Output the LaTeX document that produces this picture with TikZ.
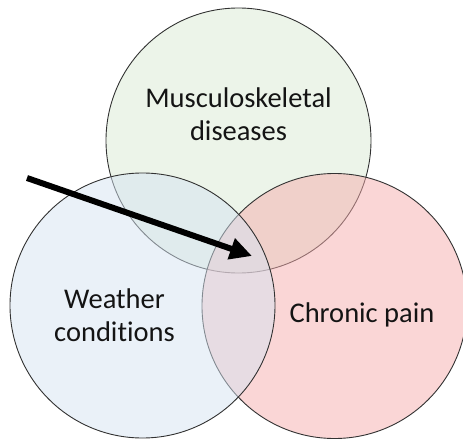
\documentclass[tikz,border=0pt]{standalone}
\usepackage{fontspec}
\setmainfont[RawFeature=-liga]{Carlito}
\usetikzlibrary{arrows.meta}
\definecolor{topfill}{RGB}{217,233,211}
\definecolor{leftfill}{RGB}{213,227,241}
\definecolor{rightfill}{RGB}{245,173,173}
\definecolor{edge}{RGB}{50,50,50}
\definecolor{txt}{RGB}{20,20,20}
\tikzset{
  venn/.style={circle, draw=edge, line width=0.9pt, fill opacity=0.5, minimum size=265pt, inner sep=0pt},
  lbl/.style={text=txt, font=\fontsize{28.5}{33}\selectfont, align=center},
  bigarrow/.style={line width=6pt, -{Triangle[length=22pt,width=21pt]}}
}
\begin{document}
\begin{tikzpicture}[x=1pt,y=-1pt]
\useasboundingbox (0,0) rectangle (463,439);
\begin{scope}
\clip (0,0) rectangle (463,439);
\node[venn, fill=topfill] (top) at (238.5,140.5) {};
\node[venn, fill=rightfill] (right) at (334.5,306) {};
\node[venn, fill=leftfill] (left) at (142.5,305.5) {};
\end{scope}
\node[lbl] (tl) at (238.5,114) {Musculoskeletal\\diseases};
\node[lbl] (ll) at (114.5,315) {Weather\\conditions};
\node[lbl] (rl) at (362,315) {Chronic pain};
\coordinate (as) at (27,178);
\coordinate (ae) at (252,256);
\draw[bigarrow] (as) -- (ae);
\end{tikzpicture}
\end{document}
